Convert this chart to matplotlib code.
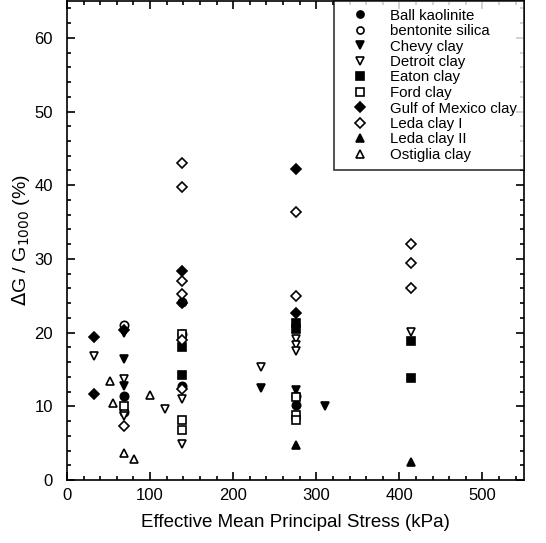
import matplotlib
matplotlib.use("Agg")
import matplotlib.pyplot as plt
from matplotlib.ticker import MultipleLocator

plt.rcParams['font.family'] = ['Liberation Sans', 'DejaVu Sans']

ball_x = [69, 138, 275]
ball_y = [11.4, 12.7, 10.2]
bent_x = [69, 69, 138, 138, 275]
bent_y = [21.0, 9.2, 24.2, 19.8, 11.4]
chevy_x = [69, 69, 69, 233, 275, 310]
chevy_y = [20.0, 16.4, 12.8, 12.5, 12.2, 10.1]
detroit_x = [33, 69, 69, 118, 138, 138, 233, 275, 275, 275, 414]
detroit_y = [16.8, 13.7, 8.7, 9.7, 11.0, 4.9, 15.4, 19.2, 18.3, 17.5, 20.1]
eaton_x = [138, 138, 275, 275, 414, 414]
eaton_y = [18.0, 14.2, 21.3, 20.5, 18.8, 13.8]
ford_x = [69, 138, 138, 138, 275, 275, 275]
ford_y = [10.0, 19.8, 8.1, 6.8, 11.2, 8.8, 8.2]
gulf_x = [33, 33, 69, 138, 138, 275, 275]
gulf_y = [19.4, 11.7, 20.4, 28.4, 24.0, 42.2, 22.7]
leda1_x = [69, 138, 138, 138, 138, 138, 138, 275, 275, 414, 414, 414]
leda1_y = [7.3, 43.0, 39.8, 27.0, 25.3, 19.0, 12.3, 36.3, 25.0, 32.0, 29.4, 26.1]
leda2_x = [275, 414]
leda2_y = [4.8, 2.4]
ost_x = [52, 55, 69, 81, 100]
ost_y = [13.4, 10.5, 3.7, 2.9, 11.5]

series = [
    ("Ball kaolinite", ball_x, ball_y, 'o', True),
    ("bentonite silica", bent_x, bent_y, 'o', False),
    ("Chevy clay", chevy_x, chevy_y, 'v', True),
    ("Detroit clay", detroit_x, detroit_y, 'v', False),
    ("Eaton clay", eaton_x, eaton_y, 's', True),
    ("Ford clay", ford_x, ford_y, 's', False),
    ("Gulf of Mexico clay", gulf_x, gulf_y, 'D', True),
    ("Leda clay I", leda1_x, leda1_y, 'D', False),
    ("Leda clay II", leda2_x, leda2_y, '^', True),
    ("Ostiglia clay", ost_x, ost_y, '^', False),
]

fig = plt.figure(figsize=(5.46, 5.43), dpi=100)
ax = fig.add_axes([67/546, 63/543, (524-67)/546, (480-1)/543])

for label, xs, ys, m, filled in series:
    ms = 5.5 if m == 'D' else 6
    ax.plot(xs, ys, linestyle='none', marker=m, markersize=ms,
            markerfacecolor='black' if filled else 'white',
            markeredgecolor='black', markeredgewidth=1.2, label=label)

ax.set_xlim(0, 550)
ax.set_ylim(0, 65)
ax.xaxis.set_major_locator(MultipleLocator(100))
ax.xaxis.set_minor_locator(MultipleLocator(20))
ax.yaxis.set_major_locator(MultipleLocator(10))
ax.yaxis.set_minor_locator(MultipleLocator(2))
ax.tick_params(which='both', direction='in', top=True, right=True, labelsize=12, width=1.2)
ax.tick_params(which='major', length=6)
ax.tick_params(which='minor', length=3)
ax.tick_params(axis='y', which='major', pad=10)
ax.tick_params(axis='x', which='major', pad=6)
for s in ax.spines.values():
    s.set_linewidth(1.2)

ax.set_xlabel("Effective Mean Principal Stress (kPa)", fontsize=13.5, labelpad=8)
ax.set_ylabel(r"$\Delta$G / G$_{1000}$ (%)", fontsize=14, labelpad=2)

leg = ax.legend(loc='upper right', borderaxespad=0, fancybox=False, edgecolor='black',
                fontsize=10.8, handletextpad=0.8, labelspacing=0.1, markerscale=0.85,
                borderpad=0.5, handlelength=2.4)
leg.get_frame().set_linewidth(1.2)

fig.savefig("out.png", dpi=100)
